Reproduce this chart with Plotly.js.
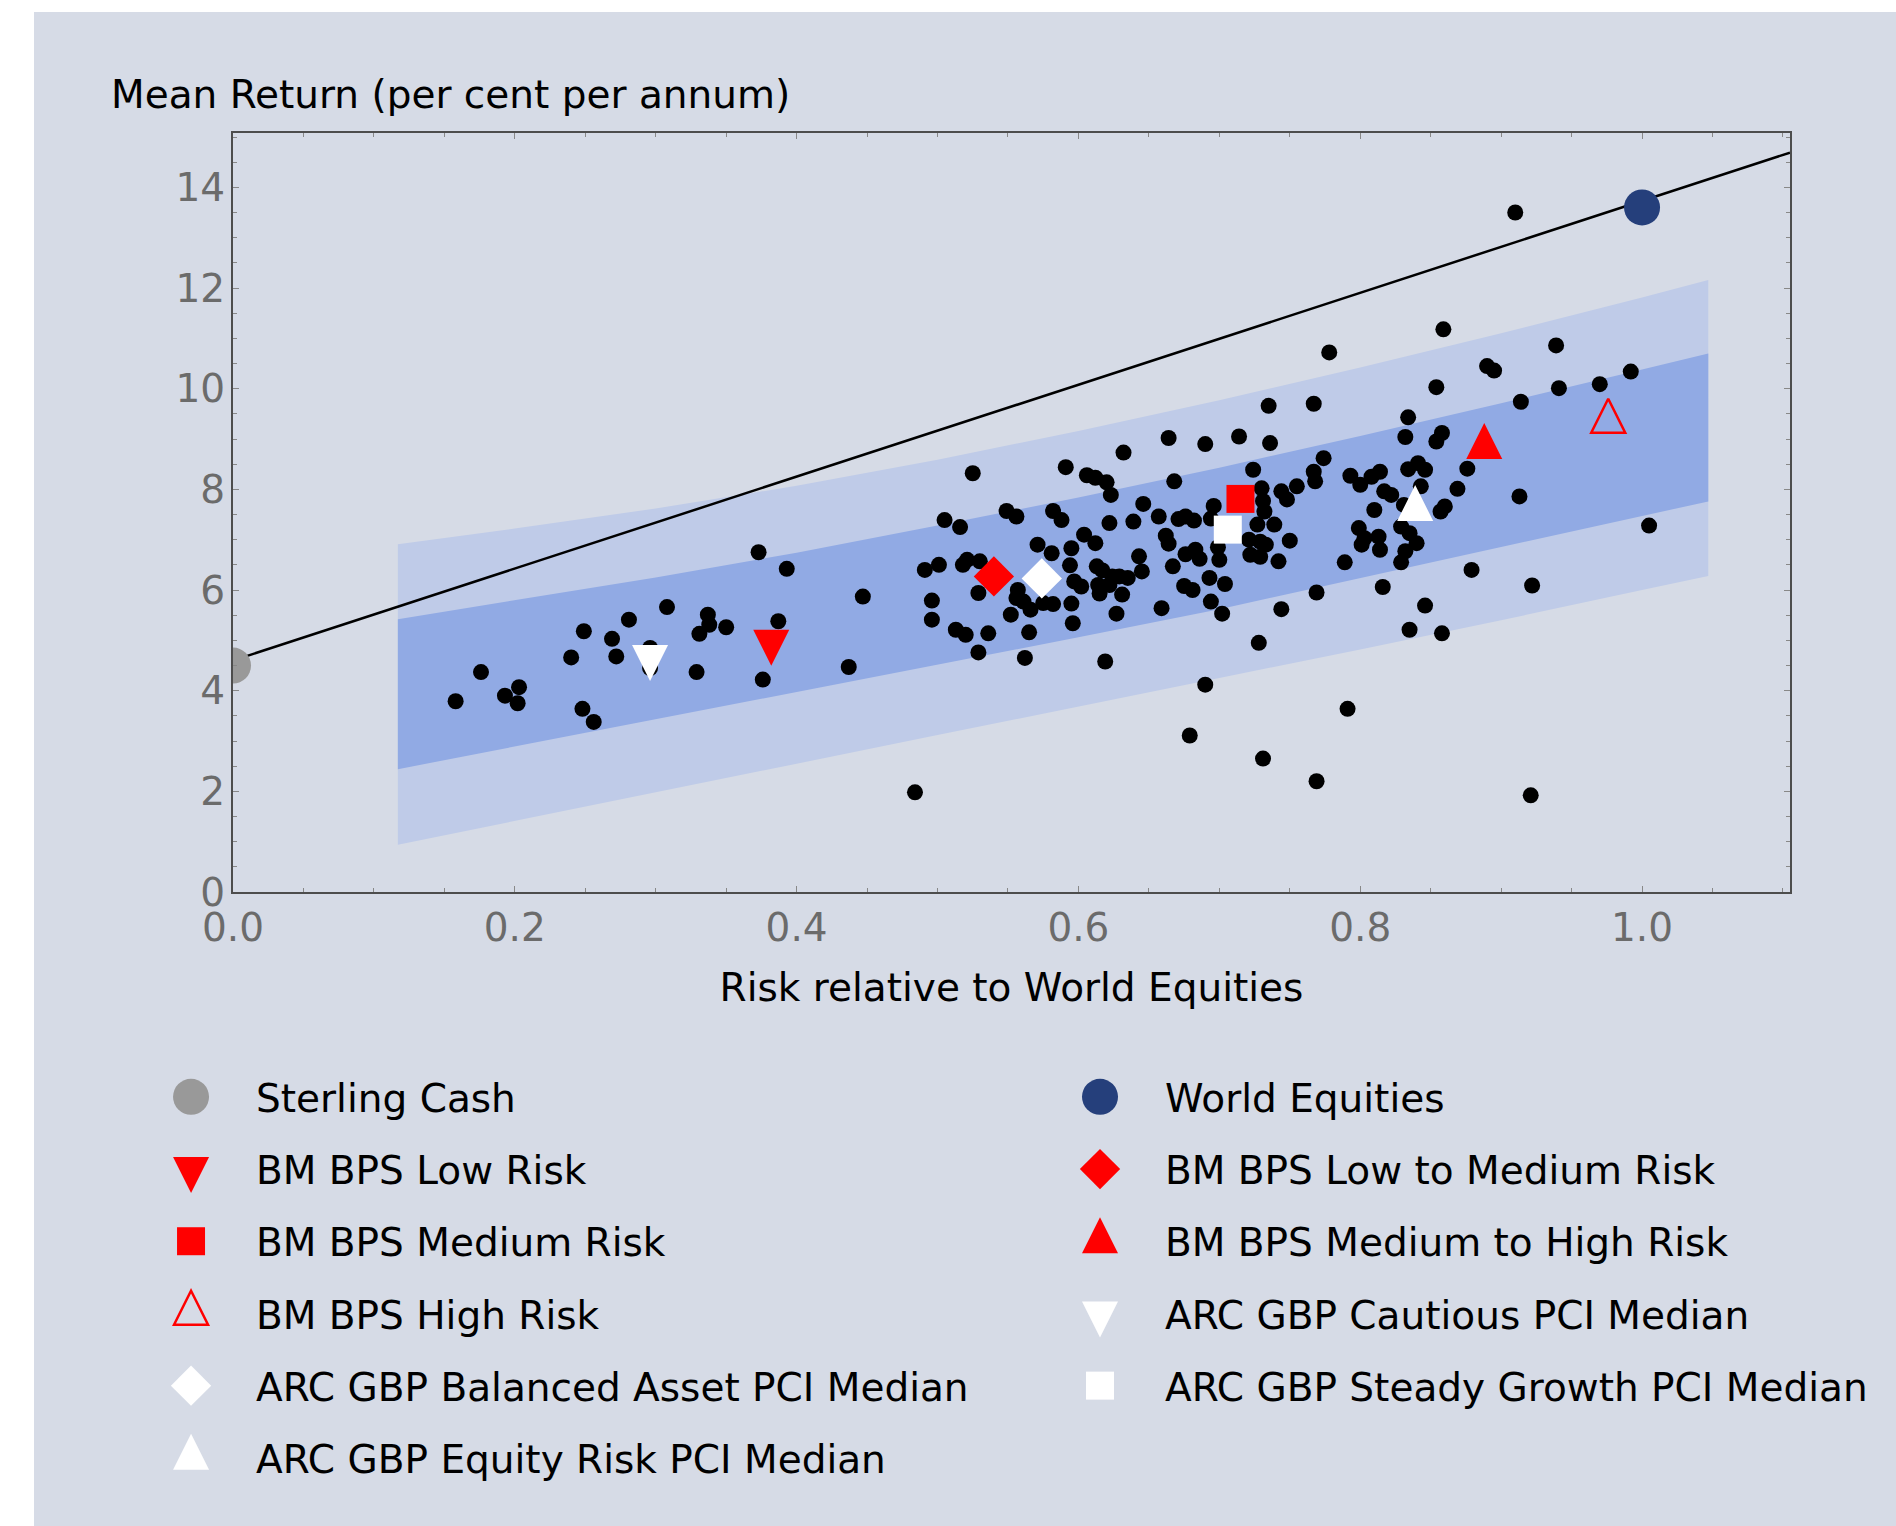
<!DOCTYPE html>
<html>
<head>
<meta charset="utf-8">
<script src="https://cdn.plot.ly/plotly-3.0.1.min.js"></script>
<style>
html,body{margin:0;padding:0;background:#ffffff;width:1896px;height:1526px;overflow:hidden;}
#chart{position:absolute;left:34px;top:12px;width:1862px;height:1514px;}
</style>
</head>
<body>
<div id="chart"></div>
<script>
// ---------- data ----------
const bandX      = [0.117, 0.2, 0.3, 0.4, 0.5, 0.6, 0.7, 0.8, 0.9, 1.0, 1.047];
const outerUpper = [6.91, 7.22, 7.62, 8.07, 8.59, 9.16, 9.77, 10.42, 11.10, 11.81, 12.16];
const innerUpper = [5.42, 5.79, 6.25, 6.74, 7.28, 7.84, 8.43, 9.06, 9.71, 10.38, 10.70];
const innerLower = [2.44, 2.89, 3.44, 3.98, 4.52, 5.06, 5.62, 6.24, 6.85, 7.47, 7.76];
const outerLower = [0.94, 1.41, 1.97, 2.55, 3.12, 3.68, 4.25, 4.82, 5.40, 6.00, 6.28];

const lineX = [0, 1.105];
const lineY = [4.60, 14.69];

const dotX = [
 0.158,0.176,0.193,0.203,0.202,0.240,0.249,0.248,0.256,0.269,0.272,0.281,0.296,0.296,0.308,0.329,0.331,0.337,0.338,0.350,
 0.373,0.393,0.387,0.376,0.447,0.437,0.484,
 0.491,0.501,0.518,0.521,0.530,0.496,0.496,0.529,0.513,0.520,0.536,0.529,0.552,0.557,0.556,0.561,0.566,0.565,0.562,0.575,0.582,0.595,0.596,
 0.505,0.516,0.549,0.556,0.582,0.588,0.525,0.591,0.606,0.612,0.620,0.623,0.632,0.664,0.690,0.714,0.668,0.646,0.622,0.639,
 0.657,0.671,0.676,0.682,0.696,0.694,0.662,0.664,0.604,0.612,0.571,0.581,0.595,0.594,0.613,0.617,0.624,0.629,0.635,0.597,
 0.602,0.614,0.615,0.622,0.631,0.643,0.645,0.627,0.619,0.667,0.659,0.676,0.683,0.686,0.675,0.681,0.693,0.704,0.694,0.702,
 0.699,0.700,0.690,0.679,
 0.736,0.724,0.730,0.731,0.732,0.744,0.748,0.755,0.774,0.767,0.768,0.727,0.739,0.721,0.729,0.733,0.722,0.729,0.742,0.750,
 0.793,0.800,0.808,0.814,0.817,0.822,0.810,0.834,0.841,0.846,0.843,0.876,0.869,0.860,0.857,0.913,1.005,0.831,0.799,0.803,
 0.801,0.813,0.814,0.829,0.835,0.840,0.832,0.829,0.789,0.879,0.922,0.769,0.816,0.744,0.846,0.835,0.858,0.728,0.791,0.731,
 0.769,0.921,
 0.910,0.859,0.778,0.939,0.890,0.895,0.992,0.970,0.941,0.854,0.914,0.735,0.767,0.834,0.832,0.858,0.854
];
const dotY = [
 3.79,4.37,3.90,4.07,3.75,4.66,5.18,3.64,3.38,5.03,4.68,5.41,4.85,4.45,5.66,4.37,5.13,5.51,5.31,5.26,
 6.75,6.42,5.38,4.22,5.87,4.47,1.98,
 6.40,6.50,6.50,6.60,6.57,5.79,5.41,5.94,5.21,5.11,5.14,4.76,5.51,6.00,5.84,5.77,5.61,5.16,4.65,5.74,5.72,5.73,5.34,
 7.39,7.25,7.57,7.46,7.57,7.39,8.32,8.44,8.28,8.23,8.14,7.89,8.73,9.02,8.90,9.05,8.16,7.71,7.33,7.36,
 7.46,7.41,7.46,7.38,7.67,7.42,7.08,6.92,7.10,6.93,6.90,6.73,6.83,6.49,6.47,6.39,6.27,6.27,6.24,6.17,
 6.07,6.10,5.93,6.10,5.91,6.67,6.37,5.53,4.58,6.47,5.64,6.71,6.80,6.62,6.08,6.00,6.24,6.12,5.77,5.53,
 6.85,6.60,4.12,3.11,
 8.92,8.39,8.02,7.77,7.56,7.96,7.80,8.06,8.62,8.35,8.16,7.30,7.30,7.00,6.96,6.90,6.70,6.66,6.57,6.98,
 8.27,8.09,8.25,8.35,7.96,7.89,7.59,8.40,8.52,8.39,8.06,8.41,8.01,7.66,7.56,7.86,7.28,7.69,7.23,7.03,
 6.90,7.06,6.80,7.26,7.13,6.93,6.77,6.55,6.55,6.40,6.09,5.95,6.06,5.62,5.69,5.21,5.14,4.95,3.64,2.65,
 2.20,1.92,
 13.50,11.18,10.72,10.86,10.45,10.36,10.34,10.09,10.01,10.03,9.74,9.66,9.70,9.43,9.04,9.12,8.95
];

const markerNames = [
 'Sterling Cash', 'World Equities',
 'BM BPS Low Risk', 'BM BPS Low to Medium Risk',
 'BM BPS Medium Risk', 'BM BPS Medium to High Risk',
 'BM BPS High Risk', 'ARC GBP Cautious PCI Median',
 'ARC GBP Balanced Asset PCI Median', 'ARC GBP Steady Growth PCI Median',
 'ARC GBP Equity Risk PCI Median'
];
const markerX = [0.000, 1.000, 0.382, 0.540, 0.715, 0.888, 0.976, 0.296, 0.574, 0.706, 0.839];
const markerY = [4.50, 13.60, 4.97, 6.27, 7.81, 8.84, 9.35, 4.67, 6.23, 7.20, 7.61];

const xTicks = [0, 0.2, 0.4, 0.6, 0.8, 1.0];
const yTicks = [0, 2, 4, 6, 8, 10, 12, 14];

// ---------- styles ----------
const BG = '#d6dbe6';
const LIGHT = '#bfcbe8';
const DARK = '#91aae4';
const RED = '#ff0000';
const FS = 39;
const TRI = 36;              // triangle size (px)
const TRI_OFF = TRI * 2 / 3;  // centres the arrow-shaped triangle on its centroid

const markerStyles = [
 {symbol:'circle', size:36, color:'#999999'},
 {symbol:'circle', size:36, color:'#253f7b'},
 {symbol:'arrow-down', size:TRI, color:RED, angle:0, standoff:TRI_OFF},
 {symbol:'diamond', size:31, color:RED},
 {symbol:'square', size:28, color:RED},
 {symbol:'arrow-down', size:TRI, color:RED, angle:180, standoff:TRI_OFF},
 {symbol:'arrow-down-open', size:TRI-2, color:RED, angle:180, standoff:(TRI-2)*2/3, line:{color:RED, width:2.5}},
 {symbol:'arrow-down', size:TRI, color:'#ffffff', angle:0, standoff:TRI_OFF},
 {symbol:'diamond', size:31, color:'#ffffff'},
 {symbol:'square', size:28, color:'#ffffff'},
 {symbol:'arrow-down', size:TRI, color:'#ffffff', angle:180, standoff:TRI_OFF}
];
const legendOf = ['legend','legend2','legend','legend2','legend','legend2','legend','legend2','legend','legend2','legend'];

const traces = [];
traces.push({x:bandX, y:outerLower, mode:'lines', line:{width:0, color:LIGHT}, showlegend:false, hoverinfo:'skip'});
traces.push({x:bandX, y:outerUpper, mode:'lines', line:{width:0, color:LIGHT}, fill:'tonexty', fillcolor:LIGHT, showlegend:false, hoverinfo:'skip'});
traces.push({x:bandX, y:innerLower, mode:'lines', line:{width:0, color:DARK}, showlegend:false, hoverinfo:'skip'});
traces.push({x:bandX, y:innerUpper, mode:'lines', line:{width:0, color:DARK}, fill:'tonexty', fillcolor:DARK, showlegend:false, hoverinfo:'skip'});
traces.push({x:lineX, y:lineY, mode:'lines', line:{color:'#000000', width:2.5}, showlegend:false, hoverinfo:'skip'});
traces.push({x:dotX, y:dotY, mode:'markers', marker:{color:'#000000', size:16, line:{width:0}}, showlegend:false, name:'Funds'});

markerNames.forEach(function(name, i){
  const st = markerStyles[i];
  const mk = {symbol:st.symbol, size:st.size, color:st.color, line: st.line || {width:0}};
  if (st.angle !== undefined) mk.angle = st.angle;
  if (st.standoff !== undefined) mk.standoff = st.standoff;
  traces.push({
    x:[markerX[i]], y:[markerY[i]], mode:'markers', name:name,
    marker:mk, legend:legendOf[i], legendgroup:name, showlegend:true
  });
});

const tickFont = {family:'DejaVu Sans', size:FS, color:'#6b6b6b'};
const axisBase = {
  showgrid:false, zeroline:false, showline:true, linecolor:'#4d4d4d', linewidth:2,
  mirror:'ticks', ticks:'inside', ticklen:6, tickwidth:1, tickcolor:'#888888',
  tickfont:tickFont, fixedrange:true, automargin:false
};

const legendBase = {
  xref:'paper', yref:'paper', xanchor:'left', yanchor:'top',
  orientation:'v', bgcolor:'rgba(0,0,0,0)', borderwidth:0,
  font:{family:'DejaVu Sans', size:FS, color:'#000000'},
  itemwidth:120, tracegroupgap:18.5, traceorder:'grouped'
};

const layout = {
  width:1862, height:1514,
  paper_bgcolor:BG, plot_bgcolor:BG,
  margin:{l:199, r:106, t:121, b:634, pad:0, autoexpand:false},
  font:{family:'DejaVu Sans', size:FS, color:'#000000'},
  xaxis: Object.assign({}, axisBase, {
    range:[0, 1.105], tickvals:xTicks, tickformat:'.1f', ticklabelstandoff:0, tickangle:0,
    minor:{dtick:0.05, ticks:'inside', ticklen:4, tickcolor:'#888888'},
    title:{text:'Risk relative to World Equities', font:{family:'DejaVu Sans', size:FS, color:'#000000'}, standoff:25}
  }),
  yaxis: Object.assign({}, axisBase, {
    range:[0, 15.08], tickvals:yTicks, ticklabelstandoff:-2,
    minor:{dtick:0.5, ticks:'inside', ticklen:4, tickcolor:'#888888'},
    title:{text:''}
  }),
  showlegend:true,
  legend: Object.assign({}, legendBase, {x:-0.0687, y:-0.2279}),
  legend2: Object.assign({}, legendBase, {x:0.5151, y:-0.2279}),
  annotations:[{
    text:'Mean Return (per cent per annum)', xref:'paper', yref:'paper',
    x:-0.0797, y:1.051, xanchor:'left', yanchor:'middle', showarrow:false,
    font:{family:'DejaVu Sans', size:FS, color:'#000000'}
  }]
};

const gd = document.getElementById('chart');
Plotly.newPlot(gd, traces, layout, {staticPlot:true, displayModeBar:false}).then(function(){
  // make legend symbols identical to the plotted markers
  const mainPaths = {};
  gd.querySelectorAll('.scatterlayer g.trace').forEach(function(g){
    const cd = g.__data__;
    if (!cd || !cd[0] || !cd[0].trace) return;
    const p = g.querySelector('path.point');
    if (p) mainPaths[cd[0].trace.index] = p.getAttribute('d');
  });
  gd.querySelectorAll('g.traces').forEach(function(g){
    const cd = g.__data__;
    if (!cd || !cd[0] || !cd[0].trace) return;
    const d = mainPaths[cd[0].trace.index];
    const p = g.querySelector('path.scatterpts');
    if (p && d) p.setAttribute('d', d);
  });
});
</script>
</body>
</html>
